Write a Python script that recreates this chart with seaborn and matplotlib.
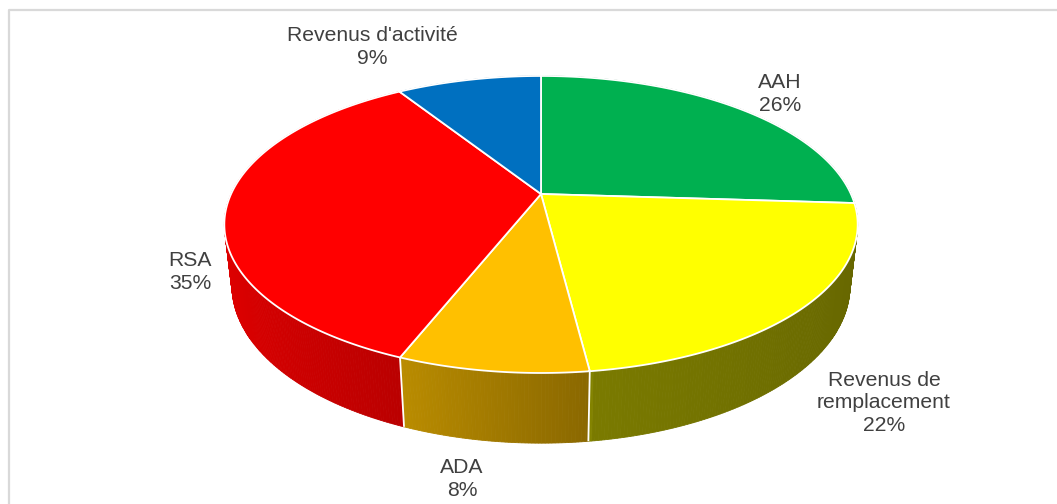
import numpy as np
import matplotlib
matplotlib.use("Agg")
import matplotlib.pyplot as plt
from matplotlib.patches import Polygon
from matplotlib.colors import to_rgb
import seaborn as sns

# Income sources of the households (share in %), clockwise from 12 o'clock
categories = ["AAH", "Revenus de\nremplacement", "ADA", "RSA", "Revenus d'activité"]
shares = [26, 22, 8, 35, 9]
slice_colors = ["#00B050", "#FFFF00", "#FFC000", "#FF0000", "#0070C0"]

sns.set_theme(style="white")
plt.rcParams["font.family"] = ["Liberation Sans", "DejaVu Sans"]

W, H = 1057, 504
fig = plt.figure(figsize=(W / 100, H / 100), dpi=100)
ax = fig.add_axes([0, 0, 1, 1])
ax.set_xlim(0, W)
ax.set_ylim(H, 0)
ax.axis("off")

# Simple perspective camera looking down on the pie
CX, CY = 541, 194
SIN_E = 0.459
COS_E = np.sqrt(1 - SIN_E ** 2)
DIST = 4.33
FOC = 1342
THICK = 0.224


def project(theta, y=0.0, r=1.0):
    X = r * np.sin(theta)
    Z = -r * np.cos(theta)
    depth = Z * COS_E + y * SIN_E
    v = y * COS_E - Z * SIN_E
    k = FOC / (DIST - depth)
    return CX + X * k, CY - v * k


def shade(theta):
    # side walls are lit from the left
    return np.interp(np.sin(theta), [-1, -0.37, 0.125, 0.135, 1],
                     [0.88, 0.73, 0.54, 0.48, 0.40])


fractions = np.array(shares, dtype=float) / np.sum(shares)
edges = np.concatenate([[0], np.cumsum(fractions)]) * 2 * np.pi

# side walls, drawn back to front in thin strips
strips = []
for i in range(len(shares)):
    a, b = edges[i], edges[i + 1]
    n = max(int((b - a) / (2 * np.pi) * 720), 2)
    t = np.linspace(a, b, n + 1)
    for j in range(n):
        t0, t1 = t[j], t[j + 1]
        tm = 0.5 * (t0 + t1)
        x0, y0 = project(t0)
        x1, y1 = project(t1)
        x2, y2 = project(t1, -THICK)
        x3, y3 = project(t0, -THICK)
        col = np.clip(np.array(to_rgb(slice_colors[i])) * shade(tm), 0, 1)
        strips.append((-np.cos(tm), [(x0, y0), (x1, y1), (x2, y2), (x3, y3)], col))

strips.sort(key=lambda s: s[0])
for _, pts, col in strips:
    ax.add_patch(Polygon(pts, closed=True, facecolor=col, edgecolor=col,
                         linewidth=0.6, zorder=2))

# white seams between slices on the visible wall
for e in edges[:-1]:
    if -np.cos(e) > 0.2:
        xa, ya = project(e)
        xb, yb = project(e, -THICK)
        ax.plot([xa, xb], [ya, yb], color="white", linewidth=1.3, zorder=3,
                solid_capstyle="butt")

# top faces
for i in range(len(shares)):
    a, b = edges[i], edges[i + 1]
    t = np.linspace(a, b, 200)
    xs, ys = project(t)
    pts = [(CX, CY)] + list(zip(xs, ys))
    ax.add_patch(Polygon(pts, closed=True, facecolor=slice_colors[i],
                         edgecolor="white", linewidth=1.3, joinstyle="round",
                         zorder=4))

# data labels
label_xy = [(780, 94), (884, 403), (462, 479), (190, 272), (372, 47)]
for cat, val, (lx, ly) in zip(categories, shares, label_xy):
    ax.text(lx, ly, f"{cat}\n{val}%", ha="center", va="center",
            fontsize=15.2, color="#404040", linespacing=1.25, zorder=5)

# chart area frame
ax.plot([8.5, 8.5, W], [H, 9.5, 9.5], color="#d9d9d9", linewidth=1.6, zorder=1)

fig.savefig("out.png", dpi=100)
